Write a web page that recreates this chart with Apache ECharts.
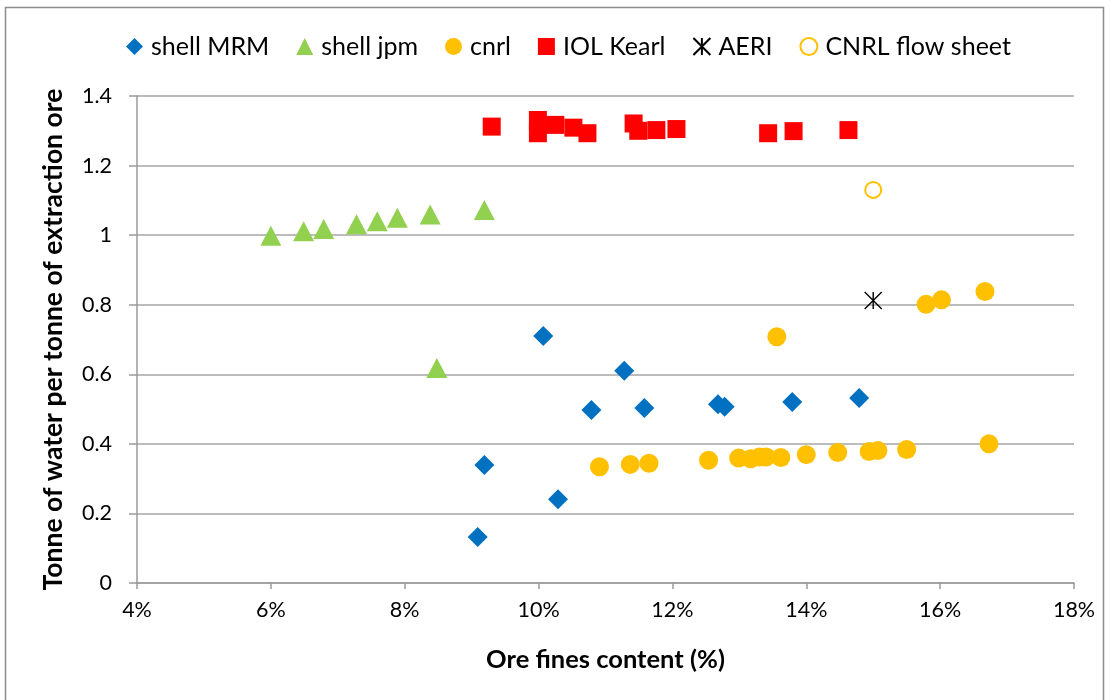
<!DOCTYPE html>
<html>
<head>
<meta charset="utf-8">
<title>Water use vs ore fines content</title>
<script src="https://cdn.jsdelivr.net/npm/echarts@6/dist/echarts.min.js"></script>
<style>
  html, body { margin: 0; padding: 0; background: #fff; }
  #chart { width: 1114px; height: 700px; }
</style>
</head>
<body>
<div id="chart"></div>
<script>
// Ore fines content (%) and tonnes of water per tonne of ore, per data source
const shellMrmX = [10.07, 11.28, 10.79, 11.58, 12.68, 12.78, 13.79, 14.79, 9.19, 10.29, 9.09];
const shellMrmY = [0.71, 0.61, 0.497, 0.503, 0.514, 0.507, 0.52, 0.532, 0.339, 0.241, 0.132];

const shellJpmX = [6.0, 6.49, 6.79, 7.28, 7.59, 7.89, 8.38, 9.19, 8.48];
const shellJpmY = [0.998, 1.011, 1.018, 1.031, 1.04, 1.05, 1.059, 1.072, 0.618];

const cnrlX = [13.56, 10.91, 11.37, 11.65, 12.54, 12.99, 13.17, 13.3, 13.4, 13.62, 14.0, 14.47, 14.94, 15.07, 15.5, 16.73, 15.79, 16.02, 16.67];
const cnrlY = [0.708, 0.334, 0.341, 0.344, 0.353, 0.359, 0.357, 0.362, 0.362, 0.361, 0.369, 0.375, 0.378, 0.381, 0.384, 0.4, 0.801, 0.814, 0.838];

const kearlX = [9.3, 9.99, 9.99, 10.25, 10.52, 10.73, 11.42, 11.49, 11.76, 12.06, 13.43, 13.81, 14.63];
const kearlY = [1.312, 1.331, 1.293, 1.317, 1.309, 1.293, 1.321, 1.3, 1.302, 1.305, 1.293, 1.299, 1.302];

const aeriX = [15.0];
const aeriY = [0.812];

const cnrlSheetX = [15.0];
const cnrlSheetY = [1.13];

const seriesNames = ['shell MRM', 'shell jpm', 'cnrl', 'IOL Kearl', 'AERI', 'CNRL flow sheet'];
const xTicks = { min: 4, max: 18, step: 2 };
const yTicks = { min: 0, max: 1.4, step: 0.2 };

const pairs = (xs, ys) => xs.map((x, i) => [x, ys[i]]);

const FONT = 'Lato, "Liberation Sans", sans-serif';
const chart = echarts.init(document.getElementById('chart'), null, { renderer: 'canvas' });

chart.setOption({
  animation: false,
  backgroundColor: '#ffffff',
  textStyle: { fontFamily: FONT },
  graphic: [{
    type: 'rect',
    shape: { x: 5.5, y: 7.5, width: 1098, height: 700 },
    style: { fill: 'none', stroke: '#8c8c8c', lineWidth: 1.5 },
    silent: true
  }],
  legend: {
    top: 29,
    left: 121,
    itemGap: 27,
    itemWidth: 17,
    itemHeight: 17,
    textStyle: { fontFamily: FONT, fontSize: 25, color: '#000', padding: [0, 0, 0, 3] },
    data: seriesNames
  },
  grid: { left: 137, right: 40, top: 96, bottom: 117, containLabel: false },
  xAxis: {
    type: 'value',
    min: xTicks.min,
    max: xTicks.max,
    interval: xTicks.step,
    name: 'Ore fines content (%)',
    nameLocation: 'middle',
    nameGap: 64,
    nameTextStyle: { fontFamily: FONT, fontSize: 25.5, fontWeight: 'bold', color: '#000' },
    axisLine: { show: true, lineStyle: { color: '#9a9a9a', width: 1.5 } },
    axisTick: { show: true, inside: false, length: 6, lineStyle: { color: '#9a9a9a', width: 1.5 } },
    axisLabel: { fontFamily: FONT, fontSize: 21.5, color: '#000', margin: 16, formatter: v => v + '%' },
    splitLine: { show: false }
  },
  yAxis: {
    type: 'value',
    min: yTicks.min,
    max: yTicks.max,
    interval: yTicks.step,
    name: 'Tonne of water per tonne of extraction ore',
    nameLocation: 'middle',
    nameGap: 70,
    nameTextStyle: { fontFamily: FONT, fontSize: 26.5, fontWeight: 'bold', color: '#000' },
    axisLine: { show: true, lineStyle: { color: '#9a9a9a', width: 1.5 } },
    axisTick: { show: true, inside: false, length: 8, lineStyle: { color: '#9a9a9a', width: 1.5 } },
    axisLabel: { fontFamily: FONT, fontSize: 21.5, color: '#000', margin: 25, formatter: v => String(+v.toFixed(1)) },
    splitLine: { show: true, lineStyle: { color: '#a6a6a6', width: 1.5 } }
  },
  series: [
    {
      name: seriesNames[0], type: 'scatter', symbol: 'diamond', symbolSize: 20,
      itemStyle: { color: '#0070C0', opacity: 1 },
      data: pairs(shellMrmX, shellMrmY)
    },
    {
      name: seriesNames[1], type: 'scatter', symbol: 'triangle', symbolSize: [21, 20],
      itemStyle: { color: '#92D050', opacity: 1 },
      data: pairs(shellJpmX, shellJpmY)
    },
    {
      name: seriesNames[2], type: 'scatter', symbol: 'circle', symbolSize: 19,
      itemStyle: { color: '#FFC000', opacity: 1 },
      data: pairs(cnrlX, cnrlY)
    },
    {
      name: seriesNames[3], type: 'scatter', symbol: 'rect', symbolSize: 18,
      itemStyle: { color: '#FF0000', opacity: 1 },
      data: pairs(kearlX, kearlY)
    },
    {
      name: seriesNames[4], type: 'scatter',
      symbol: 'path://M0,0L10,10M10,0L0,10M5,0L5,10',
      symbolSize: 17,
      itemStyle: { color: 'rgba(0,0,0,0)', borderColor: '#000', borderWidth: 1.4, opacity: 1 },
      data: pairs(aeriX, aeriY)
    },
    {
      name: seriesNames[5], type: 'scatter', symbol: 'circle', symbolSize: 16,
      itemStyle: { color: '#ffffff', borderColor: '#FFC000', borderWidth: 2, opacity: 1 },
      data: pairs(cnrlSheetX, cnrlSheetY)
    }
  ]
});
</script>
</body>
</html>
